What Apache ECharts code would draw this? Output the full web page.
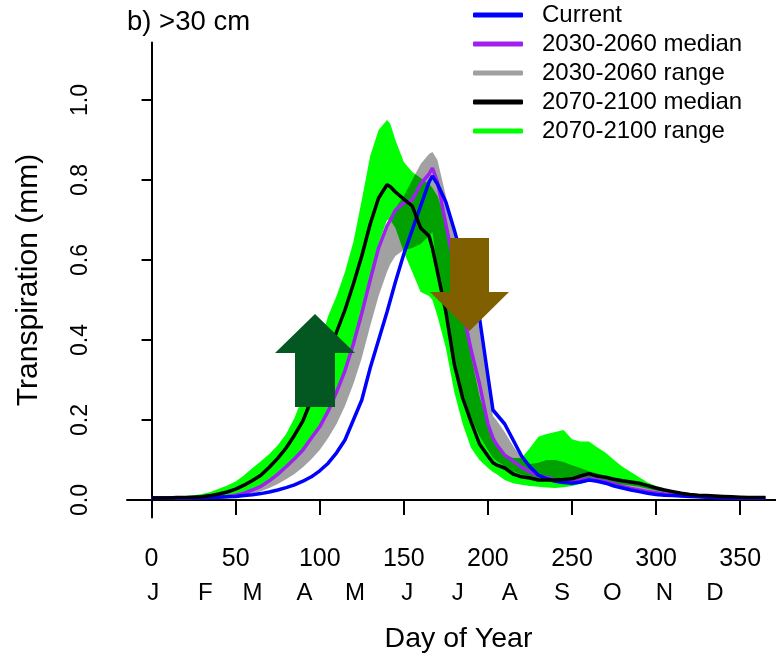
<!DOCTYPE html>
<html><head><meta charset="utf-8">
<script src="https://cdn.jsdelivr.net/npm/echarts@6/dist/echarts.min.js"></script>
<style>html,body{margin:0;padding:0;background:#fff}#c{width:776px;height:661px}</style>
</head><body><div id="c"></div>
<script>
// ---- data ----
const days = [0,5,10,15,20,25,30,35,40,45,50,55,60,65,70,75,80,85,90,95,100,105,110,115,120,125,130,135,140,142,145,150,155,160,165,167,170,175,180,185,190,195,200,203,205,210,215,220,225,230,235,240,245,250,255,260,265,270,275,280,285,290,295,300,305,310,315,320,325,330,335,340,345,350,355,360,365];
const current = [.005,.005,.005,.005,.005,.005,.006,.006,.007,.008,.009,.011,.013,.016,.02,.025,.031,.038,.047,.058,.073,.092,.118,.15,.2,.25,.33,.4,.47,
  .5,.545,.615,.675,.735,.795,.81,.79,.745,.675,.6,.525,.455,.31,.225,
  .215,.19,.15,.11,.083,.062,.053,.047,.044,.042,.045,.05,.047,.042,.035,.03,.025,.021,.017,.014,.012,.011,.01,.009,.008,.007,.006,.006,.005,.005,.005,.005,.005];
const median2030 = [.005,.005,.005,.005,.005,.006,.006,.007,.008,.009,.012,.017,.025,.034,.048,.064,.083,.103,.125,.155,.183,.222,.27,.323,.39,.467,.55,.63,.685,
  .7,.725,.742,.75,.79,.815,.83,.795,.69,.585,.475,.375,.29,.19,.155,
  .14,.112,.097,.082,.07,.061,.056,.051,.048,.046,.05,.054,.051,.046,.04,.034,.029,.025,.021,.018,.015,.013,.011,.01,.009,.008,.007,.006,.006,.005,.005,.005,.005];
const rangeLow2030 = [.004,.004,.004,.004,.004,.005,.005,.006,.007,.008,.01,.013,.017,.022,.03,.04,.052,.065,.082,.102,.125,.155,.19,.235,.29,.355,.435,.51,.57,
  .59,.61,.625,.63,.64,.66,.67,.58,.47,.36,.27,.205,.16,.125,.105,
  .098,.085,.072,.064,.058,.053,.05,.048,.047,.047,.05,.053,.05,.046,.04,.035,.03,.026,.021,.018,.015,.012,.011,.009,.008,.007,.006,.006,.005,.005,.005,.005,.005];
const rangeHigh2030 = [.006,.006,.006,.006,.006,.007,.007,.008,.009,.01,.013,.018,.026,.036,.05,.066,.085,.105,.128,.158,.187,.226,.275,.328,.395,.472,.555,.635,.69,
  .705,.73,.76,.8,.84,.865,.87,.85,.76,.66,.57,.5,.43,.29,.21,
  .2,.17,.135,.105,.09,.093,.1,.1,.095,.087,.08,.072,.066,.06,.054,.048,.043,.038,.032,.027,.022,.018,.015,.013,.011,.01,.009,.008,.007,.007,.007,.007,.007];
const median2070 = [.005,.005,.005,.006,.006,.007,.008,.011,.015,.02,.027,.037,.049,.062,.082,.104,.13,.162,.198,.25,.305,.36,.42,.475,.54,.61,.69,.755,.788,
  .783,.77,.752,.735,.68,.66,.63,.57,.47,.34,.255,.195,.14,.11,.093,
  .088,.08,.065,.058,.055,.05,.05,.05,.051,.053,.06,.066,.06,.057,.052,.048,.045,.042,.036,.03,.025,.021,.017,.014,.012,.011,.01,.009,.008,.007,.006,.006,.006];
const rangeLow2070 = [.004,.004,.004,.005,.005,.006,.006,.007,.008,.009,.012,.017,.025,.034,.048,.064,.083,.103,.125,.155,.183,.222,.27,.323,.39,.467,.55,.64,.7,
  .7,.68,.62,.57,.52,.51,.5,.46,.38,.27,.19,.13,.1,.08,.07,
  .065,.05,.042,.038,.035,.033,.031,.03,.032,.035,.04,.046,.046,.045,.042,.039,.036,.033,.028,.024,.02,.017,.014,.012,.01,.009,.008,.007,.006,.006,.006,.006,.006];
const rangeHigh2070 = [.006,.006,.007,.008,.01,.012,.015,.02,.028,.036,.046,.062,.08,.097,.115,.137,.165,.205,.26,.33,.39,.46,.51,.57,.645,.75,.86,.925,.95,
  .94,.9,.845,.82,.805,.79,.78,.76,.7,.61,.48,.36,.26,.19,.15,
  .135,.115,.105,.105,.13,.158,.165,.17,.175,.152,.146,.146,.132,.118,.1,.083,.07,.057,.044,.035,.029,.024,.019,.016,.013,.011,.01,.009,.008,.008,.008,.008,.008];
const xTicks = [0,50,100,150,200,250,300,350];
const yTicks = [0,0.2,0.4,0.6,0.8,1.0];
const monthDays = [1,32,60,91,121,152,182,213,244,274,305,335];
const monthLabels = ['J','F','M','A','M','J','J','A','S','O','N','D'];
const seriesNames = ['Current','2030-2060 median','2030-2060 range','2070-2100 median','2070-2100 range'];

// ---- helpers ----
const pairs = (ys) => days.map((d,i)=>[d, ys[i]]);
const FONT = 'Liberation Sans, Arial, Helvetica, sans-serif';
const XMIN = -14.6, XMAX = 371.3, YMIN = -0.044, YMAX = 1.144;

const chart = echarts.init(document.getElementById('c'), null, {renderer:'canvas'});
const lineS = (name, ys, color, z) => ({
  name, type:'line', data: pairs(ys), showSymbol:false, symbol:'none', z,
  lineStyle:{color, width:3.5}, itemStyle:{color}, silent:true
});
const bandS = (name, lo, hi, fill, legendColor, z) => ({
  name, type:'custom', z, silent:true,
  data: days.map((d,i)=>[d, lo[i], hi[i]]),
  encode:{x:0, y:[1,2]},
  itemStyle:{color: legendColor},
  renderItem:(params, api) => {
    if (params.dataIndex !== 0) return null;
    const pts = [];
    for (let i=0;i<days.length;i++) pts.push(api.coord([days[i], hi[i]]));
    for (let i=days.length-1;i>=0;i--) pts.push(api.coord([days[i], lo[i]]));
    return {type:'polygon', shape:{points:pts}, style:{fill}};
  }
});

const option = {
  animation:false,
  title:{text:'b) >30 cm', left:127, top:8, padding:0,
    textStyle:{fontFamily:FONT, fontSize:27.5, fontWeight:'normal', color:'#000'}},
  legend:{
    orient:'vertical', left:473, top:3, padding:0, itemWidth:50, itemHeight:5, itemGap:5,
    icon:'roundRect', selectedMode:false,
    textStyle:{fontFamily:FONT, fontSize:24, color:'#000', lineHeight:24, padding:[0,0,0,14]},
    data:[
      {name:seriesNames[0], itemStyle:{color:'#0000ff'}},
      {name:seriesNames[1], itemStyle:{color:'#a020f0'}},
      {name:seriesNames[2], itemStyle:{color:'#a0a0a0'}},
      {name:seriesNames[3], itemStyle:{color:'#000000'}},
      {name:seriesNames[4], itemStyle:{color:'#00ff00'}}
    ]
  },
  grid:{left:127, right:0, top:42.4, bottom:143.4, containLabel:false},
  xAxis:[
    {type:'value', min:XMIN, max:XMAX, position:'bottom',
     axisLine:{show:true, lineStyle:{color:'#000', width:2}},
     axisTick:{show:false}, axisLabel:{show:false}, splitLine:{show:false}},
    {type:'value', min:XMIN, max:XMAX, position:'bottom',
     axisLine:{show:false},
     axisTick:{show:true, customValues:xTicks, length:15, lineStyle:{color:'#000', width:2}},
     axisLabel:{show:true, customValues:xTicks, fontFamily:FONT, fontSize:25, color:'#000', margin:29},
     splitLine:{show:false},
     name:'Day of Year', nameLocation:'middle', nameGap:107,
     nameTextStyle:{fontFamily:FONT, fontSize:28.5, color:'#000', padding:[0,0,0,14]}},
    {type:'value', min:XMIN, max:XMAX, position:'bottom',
     axisLine:{show:false}, axisTick:{show:false}, splitLine:{show:false},
     axisLabel:{show:true, customValues:monthDays, fontFamily:FONT, fontSize:24, color:'#000', margin:64,
       formatter:(v)=>monthLabels[monthDays.indexOf(v)]}}
  ],
  yAxis:[
    {type:'value', min:YMIN, max:YMAX, position:'left',
     axisLine:{show:true, lineStyle:{color:'#000', width:2}},
     axisTick:{show:false}, axisLabel:{show:false}, splitLine:{show:false}},
    {type:'value', min:YMIN, max:YMAX, position:'left', offset:10,
     axisLine:{show:false},
     axisTick:{show:true, customValues:yTicks, length:10, lineStyle:{color:'#000', width:2}},
     axisLabel:{show:true, customValues:yTicks, rotate:90, fontFamily:FONT, fontSize:23, color:'#000', margin:25,
       formatter:(v)=>v.toFixed(1)},
     splitLine:{show:false},
     name:'Transpiration (mm)', nameLocation:'middle', nameGap:73, nameRotate:90,
     nameTextStyle:{fontFamily:FONT, fontSize:30, color:'#000'}}
  ],
  series:[
    bandS(seriesNames[4], rangeLow2070, rangeHigh2070, '#00ff00', '#00ff00', 1),
    bandS(seriesNames[2], rangeLow2030, rangeHigh2030, 'rgba(0,0,0,0.37)', '#a0a0a0', 2),
    lineS(seriesNames[1], median2030, '#a020f0', 3),
    lineS(seriesNames[0], current, '#0000ff', 4),
    lineS(seriesNames[3], median2070, '#000000', 5)
  ],
  graphic:[
    {type:'polygon', z:100, shape:{points:[[315,314],[355,353],[335,353],[335,407],[295,407],[295,353],[275,353]]},
     style:{fill:'#025820'}},
    {type:'polygon', z:100, shape:{points:[[450,238],[489,238],[489,292],[509,292],[469.5,331],[430,292],[450,292]]},
     style:{fill:'#7f5f00'}}
  ]
};
chart.setOption(option);
</script></body></html>
